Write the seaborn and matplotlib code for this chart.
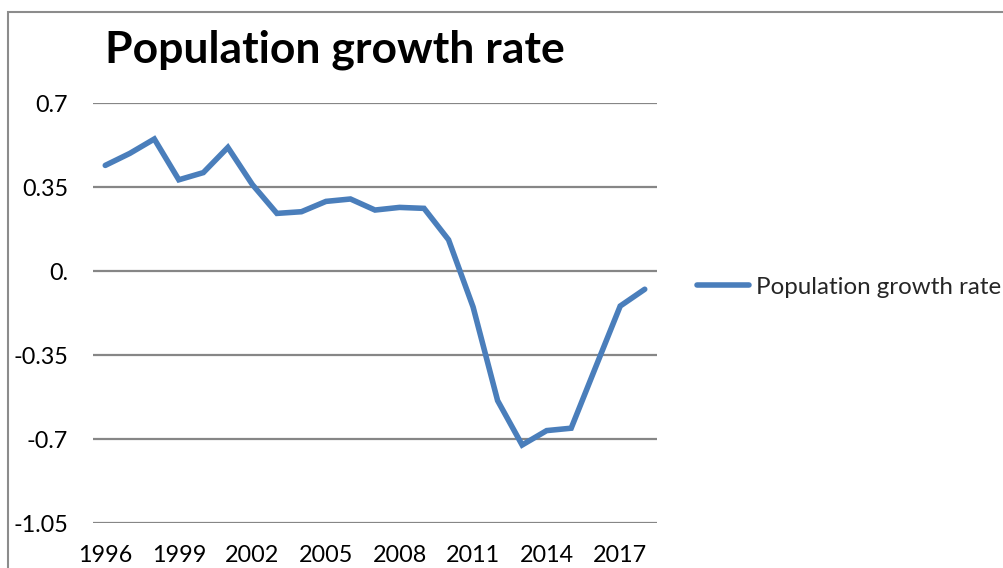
import matplotlib
matplotlib.use("Agg")
import matplotlib.pyplot as plt
from matplotlib.patches import Rectangle
import seaborn as sns
import pandas as pd

# Annual population growth rate, %
years = list(range(1996, 2019))
growth = [0.44, 0.49, 0.55, 0.38, 0.41, 0.515, 0.36, 0.24, 0.247, 0.29, 0.30,
          0.254, 0.265, 0.261, 0.13, -0.15, -0.54, -0.725, -0.665, -0.655,
          -0.40, -0.146, -0.076]
series_name = "Population growth rate"
title_text = "Population growth rate"
y_ticks = [0.7, 0.35, 0.0, -0.35, -0.7, -1.05]
y_tick_labels = ["0.7", "0.35", "0.", "-0.35", "-0.7", "-1.05"]
x_ticks = list(range(1996, 2018, 3))

df = pd.DataFrame({"Year": years, "Rate": growth})

sns.set_theme(style="white")
plt.rcParams["font.family"] = ["Lato", "DejaVu Sans"]

W, H = 1004, 568
fig = plt.figure(figsize=(W / 100, H / 100), dpi=100)
ax = fig.add_axes([93 / W, (H - 523) / H, (657 - 93) / W, (523 - 103) / H])

sns.lineplot(data=df, x="Year", y="Rate", ax=ax, color="#4A7EBB",
             linewidth=4.0, label=series_name, solid_joinstyle="miter")

ax.set_xlim(1995.5, 2018.5)
ax.set_ylim(-1.05, 0.7)
ax.set_yticks(y_ticks)
ax.set_yticklabels(y_tick_labels)
ax.set_xticks(x_ticks)
ax.set_xticklabels([str(t) for t in x_ticks])
ax.tick_params(axis="both", length=0, labelsize=16.8, colors="black")
ax.tick_params(axis="y", pad=18)
ax.tick_params(axis="x", pad=15.5)
ax.set_xlabel("")
ax.set_ylabel("")
for s in ax.spines.values():
    s.set_visible(False)
ax.grid(False)
for yv in y_ticks:
    ax.axhline(yv, color="#868686", linewidth=1.6, zorder=0)

leg = ax.legend(loc="center left", bbox_to_anchor=(697 / W, 1 - 287 / H),
                bbox_transform=fig.transFigure, frameon=False, fontsize=17.4,
                handlelength=2.15, handletextpad=0.3, borderpad=0, borderaxespad=0)
for ln in leg.get_lines():
    ln.set_linewidth(4.0)

fig.text(105 / W, 1 - 50 / H, title_text, fontsize=32, fontweight="bold",
         ha="left", va="center", color="black")

# outer chart frame
fig.patches.append(Rectangle((8 / W, -0.1), 2.0, 1.1 - 12 / H, transform=fig.transFigure,
                             fill=False, edgecolor="#8c8c8c", linewidth=1.5))

fig.savefig("out.png", dpi=100)
